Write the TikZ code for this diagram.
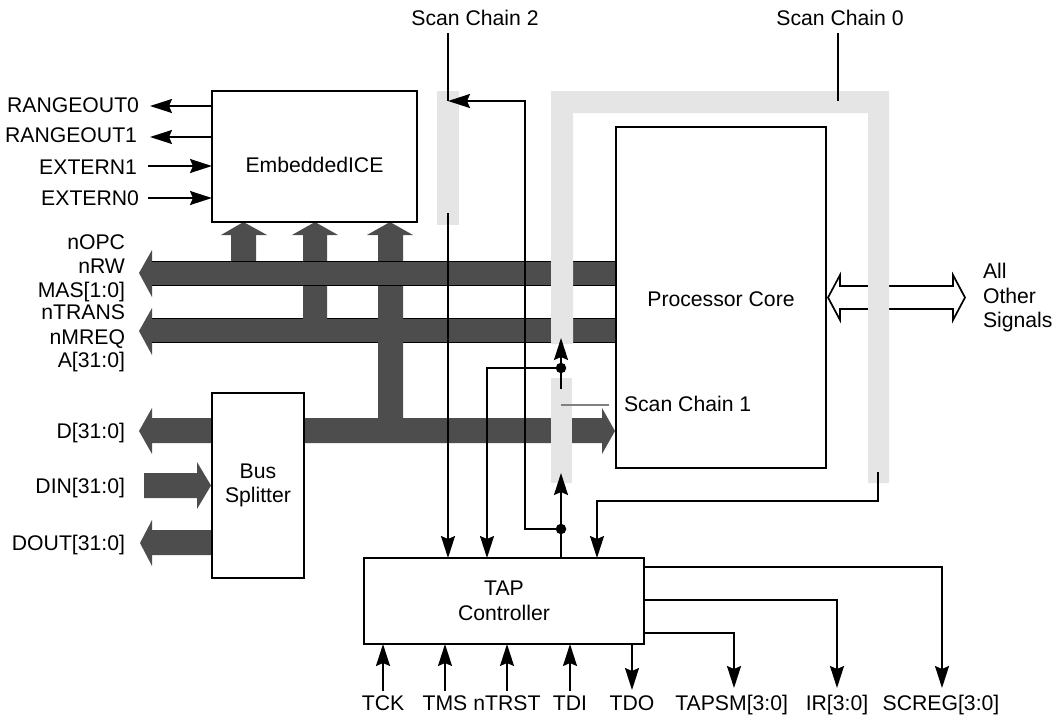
\documentclass[tikz,border=0pt]{standalone}
\usepackage{fontspec}
\setmainfont{Liberation Sans}
\usetikzlibrary{arrows.meta}
\definecolor{busc}{HTML}{4D4D4D}
\definecolor{chainc}{HTML}{E5E5E5}
\tikzset{
  every node/.style={font=\fontsize{21.2}{24.6}\selectfont,inner sep=0pt,outer sep=0pt},
  box/.style={draw=black,line width=1.7pt,fill=white,anchor=north west,align=center},
  lbl/.style={anchor=base},
  lble/.style={anchor=base east},
  lblw/.style={anchor=base west},
  sig/.style={draw=black,line width=1.7pt},
  arr/.style={sig,-{Stealth[length=22pt,width=14pt,inset=3pt]}},
  bus/.style={fill=busc,draw=none},
  edge/.style={draw=black,line width=0.8pt},
  chain/.style={fill=chainc,draw=none},
  dotc/.style={circle,fill=black,minimum size=10.5pt},
}
\begin{document}
\begin{tikzpicture}[x=1pt,y=-1pt]
\useasboundingbox (0,0) rectangle (1057,716);
% bus 2 (below the shafts)
\fill[bus] (139,331) -- (152,308) -- (152,319) -- (616,319) -- (616,342) -- (152,342) -- (152,355) -- cycle;
\draw[edge] (152,318) -- (616,318) (152,342) -- (616,342);
% up shafts with heads
\fill[bus] (231,285) -- (231,235) -- (221,235) -- (243.5,222) -- (267,235) -- (256,235) -- (256,285) -- cycle;
\fill[bus] (303,330) -- (303,235) -- (292,235) -- (315,222) -- (338,235) -- (327,235) -- (327,330) -- cycle;
\fill[bus] (378,430) -- (378,235) -- (367,235) -- (390,222) -- (413,235) -- (403,235) -- (403,430) -- cycle;
% bus 1
\fill[bus] (139,273) -- (152,250) -- (152,261) -- (616,261) -- (616,285) -- (152,285) -- (152,297) -- cycle;
\draw[edge] (152,261) -- (616,261) (152,285) -- (616,285);
% bus 3 and the splitter's buses
\fill[bus] (139,431) -- (152,408) -- (152,418) -- (602,418) -- (602,408) -- (615,431) -- (602,454) -- (602,443) -- (152,443) -- (152,454) -- cycle;
\fill[bus] (144,473) -- (197,473) -- (197,462) -- (211,485.5) -- (197,509) -- (197,498) -- (144,498) -- cycle;
\fill[bus] (140,543) -- (152,520) -- (152,530) -- (212,530) -- (212,555) -- (152,555) -- (152,566) -- cycle;
% boxes
\node[box,minimum width=205pt,minimum height=131pt] (ice) at (212,91) {\raisebox{-15.5pt}[0pt][0pt]{EmbeddedICE}};
\node[box,minimum width=210pt,minimum height=341pt] (core) at (616,127) {\raisebox{-8.5pt}[0pt][0pt]{Processor Core}};
\node[box,minimum width=92pt,minimum height=185pt] (split) at (212,393) {Bus\\Splitter};
\node[box,minimum width=280pt,minimum height=86pt] (tap) at (364,558) {TAP\\Controller};
% double arrow
\draw[line width=1.7pt,fill=white,miter limit=6] (828,297.5) -- (840,275) -- (840,286) -- (953,286) -- (953,275) -- (965,297.5) -- (953,320) -- (953,309) -- (840,309) -- (840,320) -- cycle;
% scan chains
\fill[chain] (437,91) rectangle (459,225);
\fill[chain] (551,344) -- (551,91) -- (889,91) -- (889,483) -- (868,483) -- (868,113) -- (573,113) -- (573,344) -- cycle;
\fill[chain] (551,378) rectangle (572,483);
% text
\node[lbl] (sc2) at (475,25) {Scan Chain 2};
\node[lbl] (sc0) at (840,25) {Scan Chain 0};
\node[lblw] (sc1) at (624,411) {Scan Chain 1};
\node[lble] (l1) at (139,112) {RANGEOUT0};
\node[lble] (l2) at (137,142) {RANGEOUT1};
\node[lble] (l3) at (137,174) {EXTERN1};
\node[lble] (l4) at (139,205) {EXTERN0};
\node[lble] (l5) at (125,249) {nOPC};
\node[lble] (l6) at (125,273) {nRW};
\node[lble] (l7) at (125,297) {MAS[1:0]};
\node[lble] (l8) at (125,319) {nTRANS};
\node[lble] (l9) at (125,344) {nMREQ};
\node[lble] (l10) at (125,367) {A[31:0]};
\node[lble] (l11) at (125,438) {D[31:0]};
\node[lble] (l12) at (125,493) {DIN[31:0]};
\node[lble] (l13) at (125,550) {DOUT[31:0]};
\node[lblw] (r1) at (983,278) {All};
\node[lblw] (r2) at (983,303) {Other};
\node[lblw] (r3) at (983,327) {Signals};
\node[lbl] (b1) at (383,710) {TCK};
\node[lbl] (b2) at (445,710) {TMS};
\node[lbl] (b3) at (507,710) {nTRST};
\node[lbl] (b4) at (570,710) {TDI};
\node[lbl] (b5) at (632,710) {TDO};
\node[lble] (b6) at (788,710) {TAPSM[3:0]};
\node[lbl] (b7) at (837,710) {IR[3:0]};
\node[lbl] (b8) at (941,710) {SCREG[3:0]};
% free ends
\coordinate (s2top) at (448,33);
\coordinate (s2in) at (448,101);
\coordinate (s2low) at (448,213);
\coordinate (s0top) at (838,33);
\coordinate (s0in) at (838,101);
\coordinate (s0out) at (878,472);
\coordinate (s1a) at (561,389);
\coordinate (s1b) at (561,338);
\coordinate (s1c) at (561,473);
\coordinate (s1g) at (561,405);
\coordinate (s1h) at (609,405);
\node[dotc] (dotA) at (561,368) {};
\node[dotc] (dotB) at (561,529) {};
\coordinate (p1) at (150,106);
\coordinate (p2) at (150,137);
\coordinate (p3) at (148,166);
\coordinate (p4) at (148,198);
\coordinate (t1) at (383,691);
\coordinate (t2) at (445,691);
\coordinate (t3) at (507,691);
\coordinate (t4) at (570,691);
\coordinate (t5) at (632,690);
\coordinate (t6) at (734,688);
\coordinate (t7) at (837,688);
\coordinate (t8) at (942,688);
\coordinate (y6) at (644,633);
\coordinate (y7) at (644,600);
\coordinate (y8) at (644,567);
% connectors
\draw[sig] (s2top) -- (s2in);
\draw[arr] (s2low) -- (s2low |- tap.north);
\draw[arr] (dotB.center) -| (525,101) -- (s2in);
\draw[sig] (dotB.center |- tap.north) -- (dotB.center);
\draw[arr] (dotB.center) -- (s1c);
\draw[arr] (s1a) -- (s1b);
\draw[arr] (dotA.center) -| (487,558);
\draw[sig] (s0top) -- (s0in);
\draw[arr] (s0out) |- (597,501) -- (597,558);
\draw[draw=black!50,line width=1.2pt] (s1g) -- (s1h);
\draw[arr] (ice.west |- p1) -- (p1);
\draw[arr] (ice.west |- p2) -- (p2);
\draw[arr] (p3) -- (ice.west |- p3);
\draw[arr] (p4) -- (ice.west |- p4);
\draw[arr] (t1) -- (t1 |- tap.south);
\draw[arr] (t2) -- (t2 |- tap.south);
\draw[arr] (t3) -- (t3 |- tap.south);
\draw[arr] (t4) -- (t4 |- tap.south);
\draw[arr] (t5 |- tap.south) -- (t5);
\draw[arr] (y6) -| (t6);
\draw[arr] (y7) -| (t7);
\draw[arr] (y8) -| (t8);
\end{tikzpicture}
\end{document}
